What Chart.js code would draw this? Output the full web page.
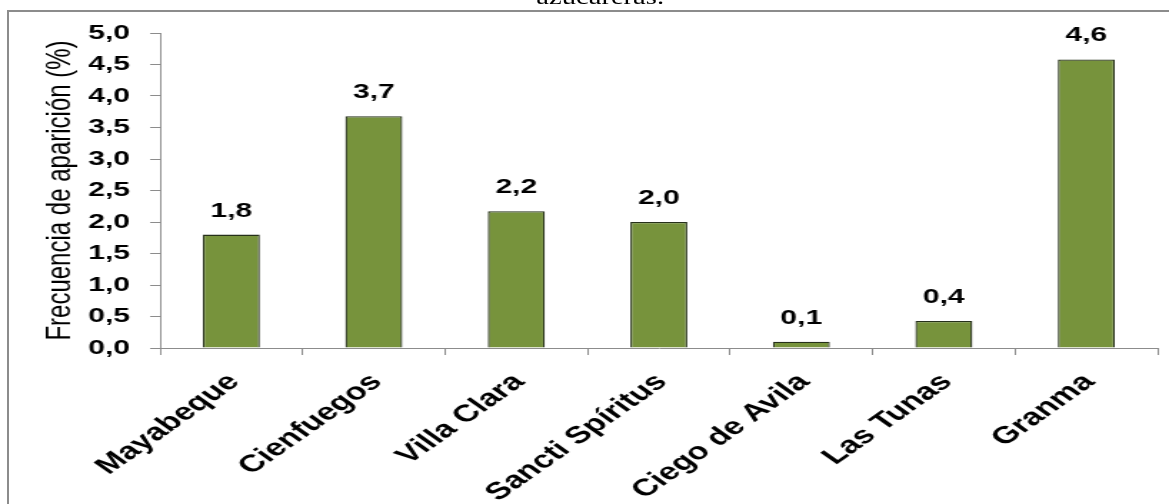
<!DOCTYPE html>
<html>
<head>
<meta charset="utf-8">
<script src="https://cdn.jsdelivr.net/npm/chart.js@4"></script>
<style>
  html, body { margin: 0; padding: 0; background: #fff; overflow: hidden; }
  body { width: 1169px; height: 504px; position: relative; }
  #frame {
    position: absolute; left: 7px; top: 10px; width: 1200px; height: 600px;
    border: 2px solid #8c8c8c;
  }
  /* the reference picture is stretched sideways, so draw narrow and widen */
  #wrap {
    position: absolute; left: 0; top: 0; width: 818px; height: 504px;
    transform-origin: 0 0; transform: scaleX(1.4291);
  }
  #title {
    position: absolute; left: 0; width: 840px; top: -13px; text-align: center;
    font: 20px/20px "Liberation Serif", "Times New Roman", serif; color: #000;
  }
  #chart { position: absolute; left: 0; top: 0; }
</style>
</head>
<body>
<div id="frame"></div>
<div id="wrap">
  <div id="title">azucareras.</div>
  <canvas id="chart" width="818" height="504"></canvas>
</div>
<script>
const provincias = ['Mayabeque', 'Cienfuegos', 'Villa Clara', 'Sancti Spíritus', 'Ciego de Avila', 'Las Tunas', 'Granma'];
const frecuencia = [1.8, 3.68, 2.17, 2.0, 0.1, 0.43, 4.58];
const yTickLabels = ['0,0', '0,5', '1,0', '1,5', '2,0', '2,5', '3,0', '3,5', '4,0', '4,5', '5,0'];

const FONT = '"Liberation Sans", Arial, sans-serif';

// value labels above each bar
const barValues = {
    id: 'barValues',
    afterDatasetsDraw(chart) {
        const ctx = chart.ctx;
        const meta = chart.getDatasetMeta(0);
        ctx.save();
        ctx.font = 'bold 21px ' + FONT;
        ctx.fillStyle = '#000';
        ctx.textAlign = 'center';
        ctx.textBaseline = 'alphabetic';
        meta.data.forEach((bar, i) => {
            const txt = frecuencia[i].toFixed(1).replace('.', ',');
            ctx.fillText(txt, bar.x, bar.y - 18);
        });
        ctx.restore();
    }
};

new Chart(document.getElementById('chart'), {
    type: 'bar',
    data: {
        labels: provincias,
        datasets: [{
            data: frecuencia,
            backgroundColor: '#77933C',
            borderColor: '#26301a',
            borderWidth: 1.3,
            categoryPercentage: 1.0,
            barPercentage: 0.4,
        }]
    },
    options: {
        responsive: false,
        animation: false,
        devicePixelRatio: 1,
        layout: { padding: { left: 0, top: 33, right: 8, bottom: 0 } },
        plugins: {
            legend: { display: false },
            tooltip: { enabled: false },
        },
        scales: {
            y: {
                min: 0,
                max: 5,
                afterFit: s => { s.width = 112; },
                border: { color: '#8c8c8c', width: 1 },
                grid: { drawOnChartArea: false, color: '#8c8c8c', tickLength: 7 },
                ticks: {
                    stepSize: 0.5,
                    padding: 14,
                    color: '#000',
                    font: { family: FONT, size: 21, weight: 'bold' },
                    callback: (v, i) => yTickLabels[i],
                },
                title: {
                    display: true,
                    text: 'Frecuencia de aparición (%)',
                    color: '#000',
                    font: { family: FONT, size: 24 },
                    padding: { top: 28, bottom: 0 },
                }
            },
            x: {
                afterFit: s => { s.height = 156; },
                border: { color: '#8c8c8c', width: 1 },
                grid: { drawOnChartArea: false, color: '#8c8c8c', tickLength: 7, offset: true },
                ticks: {
                    autoSkip: false,
                    minRotation: 45,
                    maxRotation: 45,
                    padding: 13,
                    labelOffset: 2,
                    color: '#000',
                    font: { family: FONT, size: 24, weight: 'bold' },
                }
            }
        }
    },
    plugins: [barValues]
});
</script>
</body>
</html>
